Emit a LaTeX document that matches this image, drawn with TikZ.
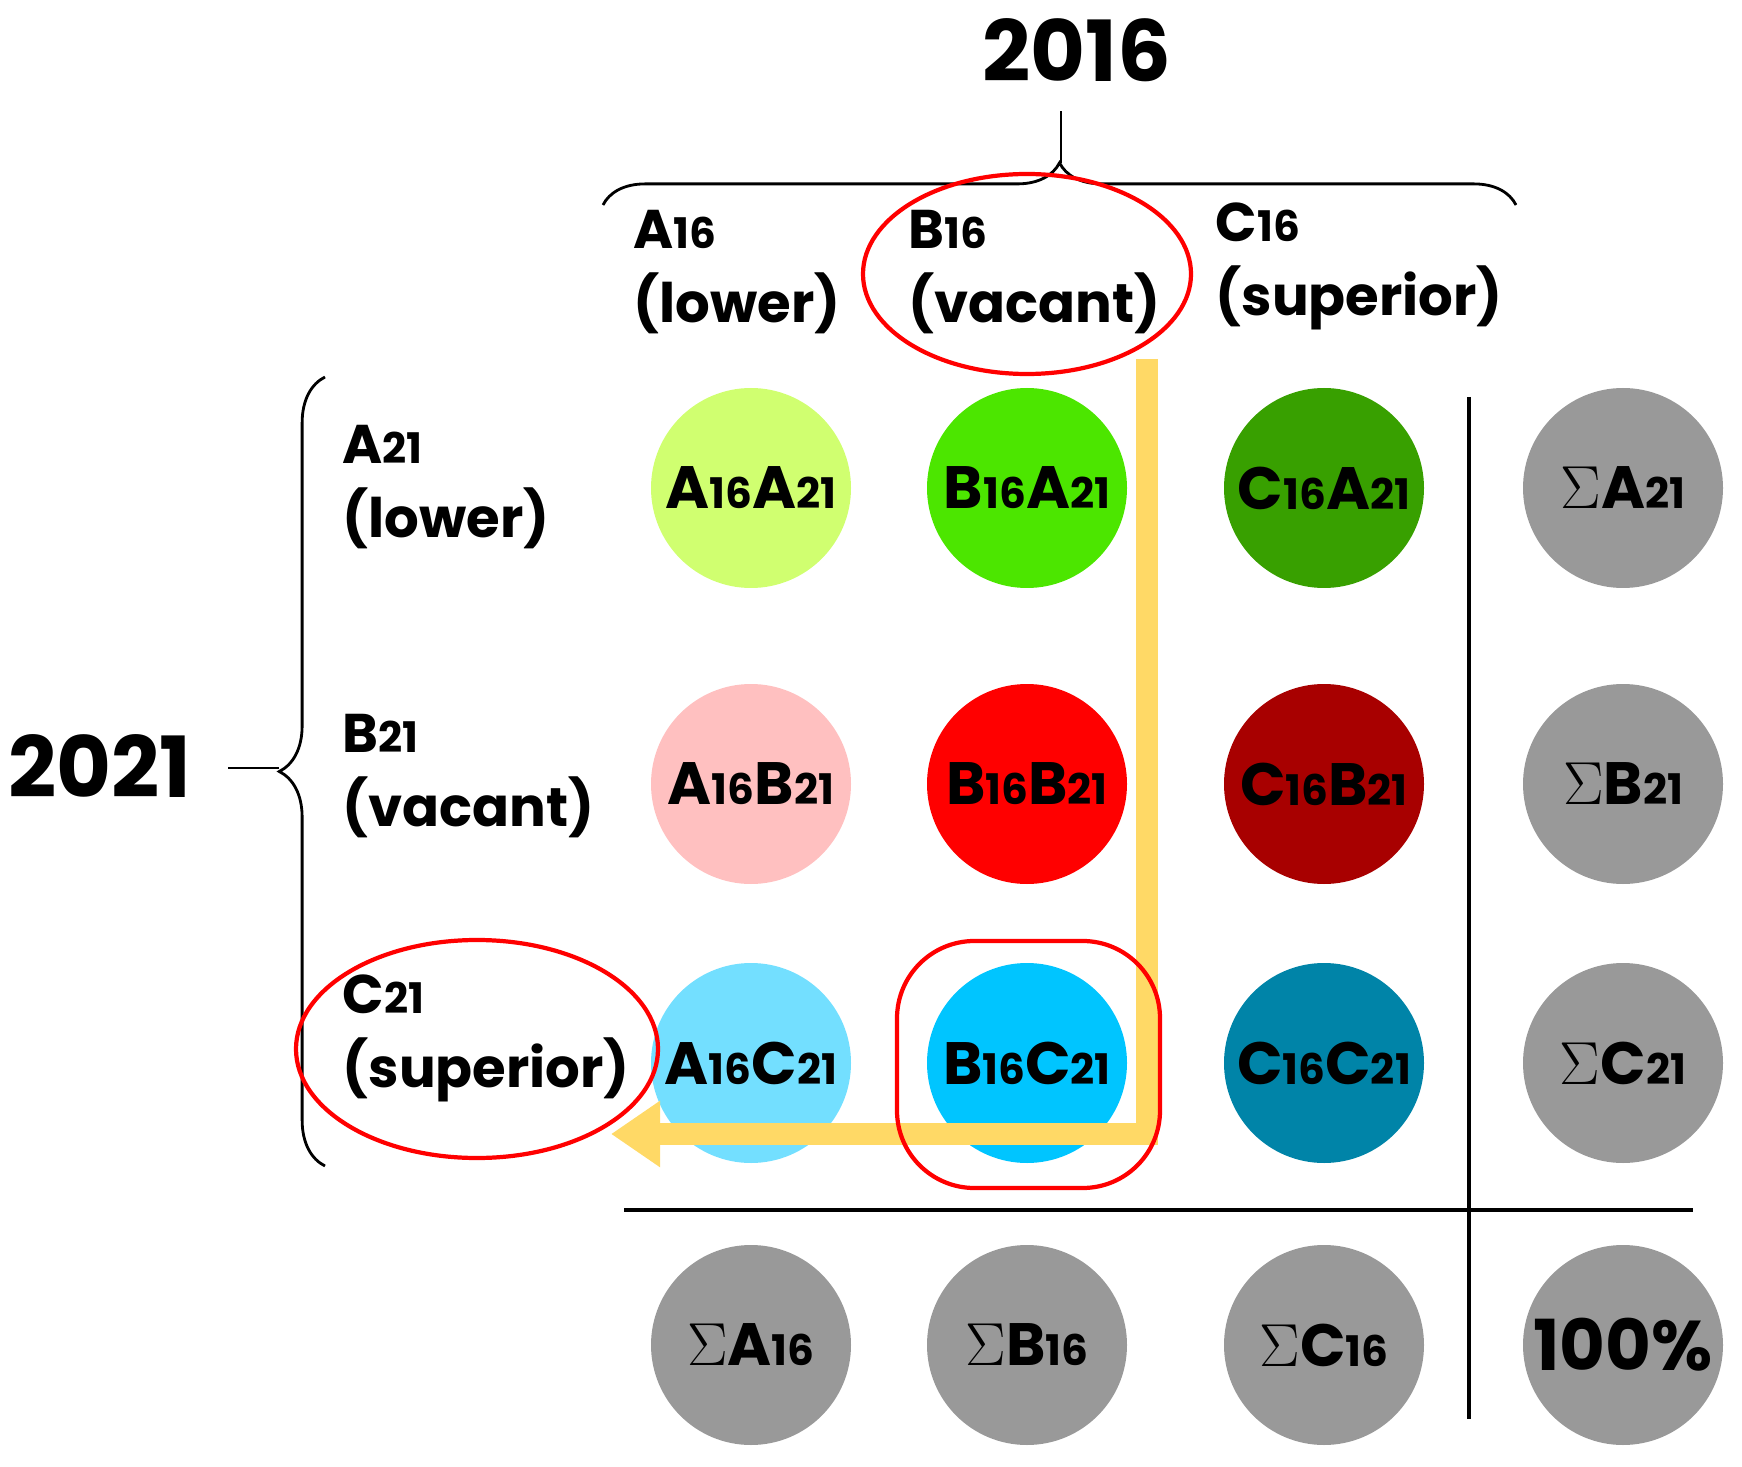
\documentclass[tikz,border=0pt]{standalone}
\usepackage{fontspec}
\setmainfont{Poppins}
\usetikzlibrary{decorations.pathreplacing,arrows.meta}
\newcommand{\ssb}[1]{{\fontsize{12}{12}\selectfont #1}}
\definecolor{gr}{HTML}{999999}
\tikzset{
 c/.style={circle,minimum size=200*0.01cm,inner sep=0pt,font=\fontsize{17}{17}\selectfont\bfseries},
 lab/.style={anchor=west,align=left,font=\fontsize{15.5}{21}\selectfont\bfseries,inner sep=0pt},
 big/.style={font=\fontsize{24}{24}\selectfont\bfseries},
 redl/.style={draw=red,line width=1.2pt},
 br/.style={decorate,line width=0.8pt}
}
\begin{document}
\begin{tikzpicture}[x=0.01cm,y=-0.01cm]
\useasboundingbox (0,0) rectangle (1742,1467);
% circles
\node[c,fill={rgb,255:red,208;green,255;blue,112}] (aa) at (751,488) {A\ssb{16}A\ssb{21}};
\node[c,fill={rgb,255:red,76;green,230;blue,0}] (ba) at (1027,488) {B\ssb{16}A\ssb{21}};
\node[c,fill={rgb,255:red,56;green,160;blue,0}] (ca) at (1324,488) {C\ssb{16}A\ssb{21}};
\node[c,fill={rgb,255:red,255;green,192;blue,192}] (ab) at (751,784) {A\ssb{16}B\ssb{21}};
\node[c,fill=red] (bb) at (1027,784) {B\ssb{16}B\ssb{21}};
\node[c,fill={rgb,255:red,168;green,0;blue,0}] (cb) at (1324,784) {C\ssb{16}B\ssb{21}};
\node[c,fill={rgb,255:red,115;green,223;blue,255}] (ac) at (751,1063) {A\ssb{16}C\ssb{21}};
\node[c,fill={rgb,255:red,0;green,197;blue,255}] (bc) at (1027,1063) {B\ssb{16}C\ssb{21}};
\node[c,fill={rgb,255:red,0;green,132;blue,168}] (cc) at (1324,1063) {C\ssb{16}C\ssb{21}};
\node[c,fill=gr] (sa21) at (1623,488) {$\Sigma$A\ssb{21}};
\node[c,fill=gr] (sb21) at (1623,784) {$\Sigma$B\ssb{21}};
\node[c,fill=gr] (sc21) at (1623,1063) {$\Sigma$C\ssb{21}};
\node[c,fill=gr] (sa16) at (751,1345) {$\Sigma$A\ssb{16}};
\node[c,fill=gr] (sb16) at (1027,1345) {$\Sigma$B\ssb{16}};
\node[c,fill=gr] (sc16) at (1324,1345) {$\Sigma$C\ssb{16}};
\node[c,fill=gr,font=\fontsize{20}{20}\selectfont\bfseries] (tot) at (1623,1345) {100\%};
% lines
\draw[line width=1pt] (1469,397) -- (1469,1419);
\draw[line width=1pt] (624,1210) -- (1693,1210);
% yellow arrow
\coordinate (y0) at (1147,359);
\coordinate (y1) at (1147,1134);
\coordinate (y2) at (611,1134);
\draw[line width=6pt,color={rgb,255:red,255;green,217;blue,102},-{Triangle[length=14pt,width=18pt]}] (y0) -- (y1) -- (y2);
% headers
\node[lab] (h1) at (633,272) {A\ssb{16}\\(lower)};
\node[lab] (h2) at (908,272) {B\ssb{16}\\(vacant)};
\node[lab] (h3) at (1215,266) {C\ssb{16}\\(superior)};
\node[lab] (r1) at (342,487) {A\ssb{21}\\(lower)};
\node[lab] (r2) at (342,776) {B\ssb{21}\\(vacant)};
\node[lab] (r3) at (342,1038) {C\ssb{21}\\(superior)};
\node[big] (y16) at (1077,50) {2016};
\node[big] (y21) at (100,766) {2021};
% braces
\draw[br,decoration={brace,amplitude=12pt,aspect=0.5}] (603,205) -- (1516,205);
\draw[line width=0.8pt] (1061,163) -- (1061,111);
\draw[br,decoration={brace,amplitude=13pt}] (325,1166) -- (325,377);
\draw[line width=0.8pt] (279,768) -- (228,768);
% red marks
\draw[redl] (1027,274) ellipse [x radius=164,y radius=100];
\draw[redl] (477,1049) ellipse [x radius=181,y radius=109];
\draw[redl,rounded corners=22] (897,941) rectangle (1160,1188);
\end{tikzpicture}
\end{document}
